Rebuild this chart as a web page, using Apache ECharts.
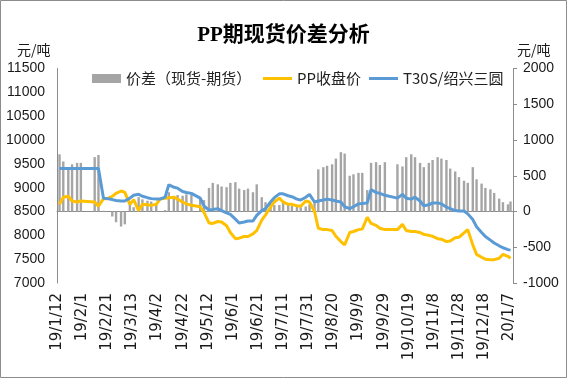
<!DOCTYPE html>
<html><head><meta charset="utf-8">
<script src="https://cdn.jsdelivr.net/npm/echarts@6/dist/echarts.min.js"></script>
<style>html,body{margin:0;padding:0;background:#fff}#c{width:567px;height:378px}</style>
</head><body><div id="c"></div>
<script>
// x-axis: calendar days
const startDate = '2019-01-12';
const endDate = '2020-01-10';
const labelEveryDays = 20;

// sampled trading days
const tradeDates = [
'2019-01-14','2019-01-17','2019-01-21','2019-01-24','2019-01-28','2019-01-31',
'2019-02-11','2019-02-14','2019-02-18','2019-02-21','2019-02-25','2019-02-28',
'2019-03-04','2019-03-07','2019-03-11','2019-03-14','2019-03-18','2019-03-21','2019-03-25','2019-03-28',
'2019-04-01','2019-04-04','2019-04-08','2019-04-11','2019-04-15','2019-04-18','2019-04-22','2019-04-25','2019-04-29',
'2019-05-06','2019-05-09','2019-05-13','2019-05-16','2019-05-20','2019-05-23','2019-05-27','2019-05-30',
'2019-06-03','2019-06-06','2019-06-10','2019-06-13','2019-06-17','2019-06-20','2019-06-24','2019-06-27',
'2019-07-01','2019-07-04','2019-07-08','2019-07-11','2019-07-15','2019-07-18','2019-07-22','2019-07-25','2019-07-29',
'2019-08-01','2019-08-05','2019-08-08','2019-08-12','2019-08-15','2019-08-19','2019-08-22','2019-08-26','2019-08-29',
'2019-09-02','2019-09-05','2019-09-09','2019-09-12','2019-09-16','2019-09-19','2019-09-23','2019-09-26','2019-09-30',
'2019-10-10','2019-10-14','2019-10-17','2019-10-21','2019-10-24','2019-10-28','2019-10-31',
'2019-11-04','2019-11-07','2019-11-11','2019-11-14','2019-11-18','2019-11-21','2019-11-25','2019-11-28',
'2019-12-02','2019-12-05','2019-12-09','2019-12-12','2019-12-16','2019-12-19','2019-12-23','2019-12-26','2019-12-30',
'2020-01-02','2020-01-06','2020-01-08'
];

// PP收盘价 (left axis)
const ppClose = [
8650,8800,8820,8720,8700,8720,
8700,8610,8770,8770,8820,8880,
8930,8900,8650,8750,8520,8650,8640,8630,
8650,8760,8780,8790,8800,8760,8700,8660,8630,
8600,8480,8260,8250,8290,8280,8200,8060,
7930,7940,7975,7975,8030,8100,8320,8430,
8590,8700,8780,8700,8650,8650,8620,8610,8720,
8700,8500,8150,8120,8120,8100,7980,7870,7800,
8060,8080,8120,8130,8380,8250,8210,8150,8120,
8120,8230,8100,8080,8080,8060,8020,
8000,7980,7930,7920,7870,7880,7950,7960,
8050,8120,7800,7600,7540,7500,7490,7490,7520,
7600,7560,7520
];

// T30S/绍兴三圆 (left axis)
const t30sPrice = [
9400,9400,9400,9400,9400,9400,
9400,9400,8780,8770,8750,8730,
8720,8720,8780,8840,8860,8820,8790,8770,
8760,8760,8800,9060,9010,8990,8920,8900,8880,
8780,8620,8530,8540,8560,8520,8470,8440,
8340,8260,8280,8300,8300,8420,8520,8560,
8700,8790,8870,8870,8830,8810,8760,8740,8800,
8860,8700,8720,8740,8760,8740,8720,8700,8600,
8560,8600,8660,8670,8680,8960,8900,8880,8840,
8780,8860,8780,8760,8800,8720,8620,
8640,8680,8680,8660,8590,8560,8520,8510,
8510,8450,8330,8180,8060,7975,7900,7840,7780,
7740,7700,7690
];

// 价差（现货-期货） (right axis)
const spread = [
800,700,620,660,680,680,
760,790,10,0,-70,-150,
-210,-180,100,60,200,170,150,140,
110,0,20,270,210,230,220,240,250,
180,160,330,400,380,350,340,400,
410,320,300,320,270,380,200,130,
110,90,90,120,100,80,90,60,70,
100,160,590,620,640,660,740,830,810,
500,520,540,540,300,680,690,650,690,
660,630,760,800,760,680,620,
680,720,760,740,720,600,560,480,
430,400,620,450,390,330,310,260,180,
130,100,140
];

const DAY = 86400000;
function utc(s){const p=s.split('-').map(Number);return Date.UTC(p[0],p[1]-1,p[2]);}
const t0 = utc(startDate);
function dayIndex(s){return Math.round((utc(s)-t0)/DAY);}
const categories = [];
for(let t=t0; t<=utc(endDate); t+=DAY){
  const d=new Date(t);
  categories.push((d.getUTCFullYear()%100)+'/'+(d.getUTCMonth()+1)+'/'+d.getUTCDate());
}
const pair = arr => tradeDates.map((d,i)=>[dayIndex(d), arr[i]]);

const axisGray = '#8c8c8c';
const legendText = {fontSize:15, fontFamily:"'Noto Sans CJK SC'", color:'#222'};
const chart = echarts.init(document.getElementById('c'), null, {renderer:'canvas'});
chart.setOption({
  backgroundColor:'#fff',
  animation:false,
  title:{text:'PP期现货价差分析', left:'center', top:20,
    textStyle:{fontSize:21, fontWeight:'bold', fontFamily:"'Liberation Serif','Noto Sans CJK SC'", color:'#000'}},
  legend:[
    {left:87, top:66, itemWidth:29, itemHeight:9, icon:'rect', textStyle:legendText,
      data:['价差（现货-期货）']},
    {left:258, top:66, itemWidth:29, itemHeight:3, icon:'rect', itemGap:8, textStyle:legendText,
      data:['PP收盘价','T30S/绍兴三圆']}
  ],
  grid:{left:57, right:54, top:68.5, bottom:95, containLabel:false},
  xAxis:{type:'category', data:categories, boundaryGap:false,
    axisLine:{lineStyle:{color:axisGray}}, axisTick:{show:false}, splitLine:{show:false},
    axisLabel:{interval:labelEveryDays-1, rotate:90, fontSize:15, fontFamily:"'DejaVu Sans'", color:'#1a1a1a', margin:10}},
  yAxis:[
    {type:'value', min:7000, max:11500, interval:500, position:'left',
      axisLine:{show:true, lineStyle:{color:axisGray}}, axisTick:{show:false}, splitLine:{show:false},
      axisLabel:{fontSize:14, fontFamily:"'Liberation Sans'", color:'#1a1a1a', margin:12, formatter:v=>String(v)}},
    {type:'value', min:-1000, max:2000, interval:500, position:'right',
      axisLine:{show:true, lineStyle:{color:axisGray}}, axisTick:{show:true, length:4, lineStyle:{color:axisGray}}, splitLine:{show:false},
      axisLabel:{fontSize:14, fontFamily:"'Liberation Sans'", color:'#1a1a1a', margin:10, formatter:v=>String(v)}}
  ],
  series:[
    {name:'价差（现货-期货）', type:'bar', yAxisIndex:1, barWidth:2.4, itemStyle:{color:'#A5A5A5'}, data:pair(spread)},
    {name:'PP收盘价', type:'line', yAxisIndex:0, symbol:'none', color:'#FFC000', lineStyle:{width:3, color:'#FFC000'}, data:pair(ppClose)},
    {name:'T30S/绍兴三圆', type:'line', yAxisIndex:0, symbol:'none', color:'#5B9BD5', lineStyle:{width:3, color:'#5B9BD5'}, data:pair(t30sPrice)}
  ],
  graphic:[
    {type:'rect', shape:{x:0.5, y:0.5, width:566, height:377}, style:{fill:null, stroke:'#8c8c8c', lineWidth:1}, silent:true},
    {type:'text', left:17, top:43, style:{text:'元/吨', fontSize:14, fontFamily:"'Noto Sans CJK SC'", fill:'#1a1a1a'}},
    {type:'text', left:517, top:43, style:{text:'元/吨', fontSize:14, fontFamily:"'Noto Sans CJK SC'", fill:'#1a1a1a'}}
  ]
});
</script></body></html>
